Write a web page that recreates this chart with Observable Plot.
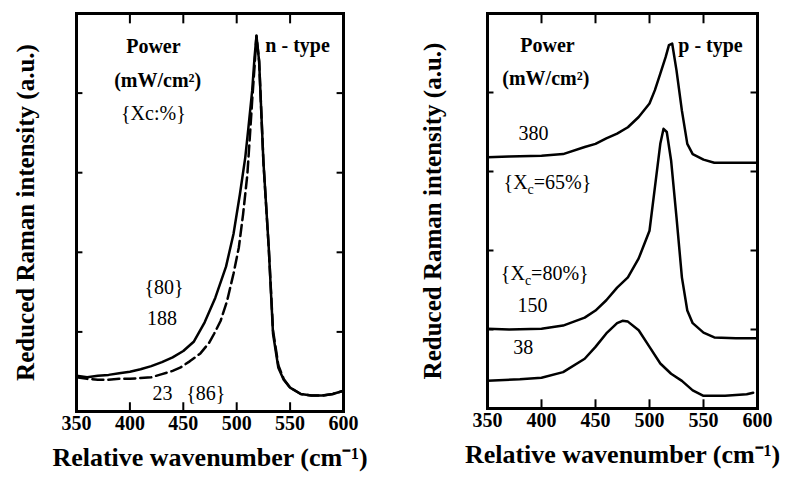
<!DOCTYPE html>
<html><head><meta charset="utf-8">
<script src="https://cdn.jsdelivr.net/npm/d3@7"></script>
<script src="https://cdn.jsdelivr.net/npm/@observablehq/plot@0.6"></script>
<style>
body{margin:0;background:#fff;}
#wrap{position:relative;width:795px;height:482px;overflow:hidden;background:#fff;}
#wrap > div{position:absolute;top:0;}
svg{overflow:visible}
g[aria-label="xtitle"] text{word-spacing:14px;letter-spacing:1.2px}
g[aria-label="ytitle"] text{letter-spacing:1px}
</style></head><body><div id="wrap"><div id="pl" style="left:0"></div><div id="pr" style="left:400px"></div></div>
<script>
// ---- data ----
const xTickLabels = [350, 400, 450, 500, 550, 600];
const xInnerTicks = [400, 450, 500, 550];
const yInnerTicks = [1, 2, 3, 4];
const xTitle = "Relative wavenumber (cm\u207B\u00B9)";
const yTitle = "Reduced Raman intensity (a.u.)";

// left panel (n-type)
const n188X = [350,360,370,380,390,400,410,420,430,440,450,460,470,480,490,497,503,508,511,514.5,516.7,518.5,521,525,530,534,539,544,550,560,570,580,590,600];
const n188Y = [0.45,0.43,0.45,0.46,0.48,0.50,0.53,0.57,0.62,0.68,0.76,0.88,1.12,1.43,1.82,2.23,2.73,3.19,3.57,4.03,4.45,4.72,4.40,3.14,2.06,0.98,0.55,0.40,0.30,0.22,0.20,0.20,0.22,0.26];
const n23X = [350,360,370,380,390,400,410,420,430,440,447,456,466,474,479,485,491,497,502,506,510,512.5,514.5,516.7,518.5,521,525,530,534,539,544,550,560,570,580,590,600];
const n23Y = [0.43,0.41,0.40,0.40,0.41,0.41,0.42,0.43,0.47,0.51,0.55,0.63,0.73,0.86,0.98,1.14,1.39,1.73,2.06,2.48,2.98,3.49,3.91,4.33,4.72,4.40,3.14,2.06,1.02,0.58,0.41,0.30,0.22,0.20,0.20,0.22,0.26];

// right panel (p-type)
const p380X = [350,370,400,420,440,450,460,470,480,490,500,505,510,515,518,521,525,530,535,540,550,560,580,600];
const p380Y = [3.18,3.19,3.20,3.22,3.31,3.35,3.42,3.48,3.56,3.69,3.86,4.03,4.24,4.45,4.60,4.62,4.28,3.77,3.35,3.22,3.15,3.11,3.11,3.11];
const p150X = [350,370,400,420,440,450,460,470,480,490,500,505,510,513,516,520,525,530,535,540,550,560,580,600];
const p150Y = [1.01,1.00,1.01,1.05,1.15,1.24,1.37,1.53,1.66,1.90,2.25,2.80,3.35,3.54,3.50,3.14,2.42,1.66,1.24,1.08,0.96,0.90,0.89,0.89];
const p38X = [350,380,400,420,440,450,460,470,475,480,490,500,510,520,530,540,550,570,590,596];
const p38Y = [0.35,0.37,0.39,0.46,0.63,0.78,0.95,1.08,1.11,1.10,0.99,0.78,0.57,0.44,0.35,0.23,0.16,0.16,0.18,0.20];

// annotations
const leftBoldText = ["Power", "(mW/cm\u00B2)", "n - type"];
const leftBoldPos = [[422, 4.59], [426, 4.16], [557, 4.60]];
const leftText = ["{Xc:%}", "{80}", "188", "23", "{86}"];
const leftPos = [[422, 3.74], [432, 1.56], [430, 1.17], [430.5, 0.23], [471, 0.23]];
const rightBoldText = ["Power", "(mW/cm\u00B2)", "p - type"];
const rightBoldPos = [[405.5, 4.59], [404, 4.18], [556.5, 4.59]];
const rightText = ["380", "{Xc=65%}", "{Xc=80%}", "150", "38"];
const rightPos = [[392.6, 3.48], [405.5, 2.86], [403, 1.71], [391.7, 1.30], [383, 0.77]];

const toRows = (xs, ys) => xs.map((x, i) => ({x, y: ys[i]}));
const toNotes = (texts, pos) => texts.map((t, i) => ({text: t, x: pos[i][0], y: pos[i][1]}));

function panel({lines, bold, normal, width, marginLeft, marginRight, marginBottom, yDx}) {
  return Plot.plot({
    width, height: 482, marginLeft, marginRight, marginTop: 13, marginBottom,
    x: {domain: [350, 600]},
    y: {domain: [0, 5], axis: null},
    style: {fontFamily: "'Liberation Serif','Times New Roman',serif", background: "white", color: "black", overflow: "visible"},
    marks: [
      ...lines.map(l => Plot.line(l.data, {x: "x", y: "y", stroke: "black", strokeWidth: 2.5, strokeDasharray: l.dash, curve: "linear"})),
      Plot.ruleX(xInnerTicks, {y1: 0, y2: 0.11, stroke: "black", strokeWidth: 2}),
      Plot.ruleX(xInnerTicks, {y1: 5, y2: 4.87, stroke: "black", strokeWidth: 2}),
      Plot.ruleY(yInnerTicks, {x1: 350, x2: 356, stroke: "black", strokeWidth: 2}),
      Plot.ruleY(yInnerTicks, {x1: 600, x2: 594, stroke: "black", strokeWidth: 2}),
      Plot.frame({stroke: "black", strokeWidth: 3}),
      Plot.axisX(xTickLabels, {tickSize: 0, tickPadding: 4, fontSize: 20, fontWeight: "bold", label: null, tickFormat: d => String(d)}),
      Plot.text([xTitle], {text: d => d, frameAnchor: "bottom", dy: 54, fontSize: 26, fontWeight: "bold", ariaLabel: "xtitle"}),
      Plot.text([yTitle], {text: d => d, frameAnchor: "left", textAnchor: "middle", dx: yDx, rotate: -90, fontSize: 25, fontWeight: "bold", ariaLabel: "ytitle"}),
      Plot.text(bold, {x: "x", y: "y", text: "text", fontSize: 20, fontWeight: "bold"}),
      Plot.text(normal, {x: "x", y: "y", text: "text", fontSize: 20, fontWeight: "normal", ariaLabel: "notes"})
    ]
  });
}

const left = panel({
  lines: [{data: toRows(n188X, n188Y), dash: null}, {data: toRows(n23X, n23Y), dash: "11,5"}],
  bold: toNotes(leftBoldText, leftBoldPos), normal: toNotes(leftText, leftPos),
  width: 400, marginLeft: 76, marginRight: 57, marginBottom: 71, yDx: -51
});
const right = panel({
  lines: [{data: toRows(p380X, p380Y), dash: null}, {data: toRows(p150X, p150Y), dash: null}, {data: toRows(p38X, p38Y), dash: null}],
  bold: toNotes(rightBoldText, rightBoldPos), normal: toNotes(rightText, rightPos),
  width: 395, marginLeft: 87, marginRight: 38, marginBottom: 74, yDx: -55
});
document.getElementById("pl").appendChild(left);
document.getElementById("pr").appendChild(right);

// subscript c in X_c
d3.selectAll("#pr text").each(function() {
  const t = this.textContent;
  if (t.startsWith("{Xc=")) {
    const el = d3.select(this);
    el.text(null);
    el.append("tspan").text("{X");
    el.append("tspan").attr("dy", 5).attr("font-size", 14).text("c");
    el.append("tspan").attr("dy", -5).text(t.slice(3));
  }
});
</script></body></html>
